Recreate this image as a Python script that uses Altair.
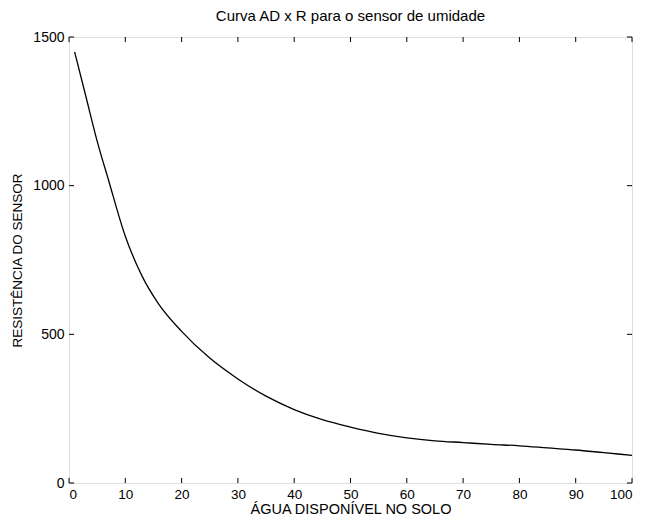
import altair as alt
import pandas as pd

# data
agua = [1, 3, 5, 7, 10, 13, 16, 20, 25, 30, 35, 40, 45, 50, 55, 60, 65, 70, 75, 80, 85, 90, 95, 100]
resistencia = [1450, 1300, 1150, 1020, 830, 695, 600, 510, 420, 350, 292, 247, 213, 188, 167, 152, 142, 136, 130, 125, 118, 111, 102, 93]

x_ticks = [0, 10, 20, 30, 40, 50, 60, 70, 80, 90, 100]
y_ticks = [0, 500, 1000, 1500]

FONT = "Liberation Sans"

df = pd.DataFrame({"AD": agua, "R": resistencia})

xs = alt.Scale(domain=[0, 100], nice=False, zero=False)
ys = alt.Scale(domain=[0, 1500], nice=False, zero=False)

line = alt.Chart(df).mark_line(color="black", strokeWidth=1.3, interpolate="monotone").encode(
    x=alt.X("AD:Q", scale=xs, title="ÁGUA DISPONÍVEL NO SOLO",
            axis=alt.Axis(values=x_ticks, format="d", tickSize=0, labelPadding=4, titlePadding=2,
                          domain=False, grid=False, labelFontSize=13.5, titleFontSize=14.5,
                          labelFont=FONT, titleFont=FONT, labelColor="black",
                          titleColor="black", titleFontWeight="normal")),
    y=alt.Y("R:Q", scale=ys, title="RESISTÊNCIA DO SENSOR",
            axis=alt.Axis(values=y_ticks, format="d", tickSize=0, labelPadding=5, titlePadding=8,
                          domain=False, grid=False, labelFontSize=14, titleFontSize=13.5,
                          labelFont=FONT, titleFont=FONT, labelColor="black",
                          titleColor="black", titleFontWeight="normal")),
)

# inward ticks on all four sides
xt = pd.DataFrame({"x": x_ticks})
yt = pd.DataFrame({"y": y_ticks})
tick_len_y = 17   # data units (~5 px)
tick_len_x = 0.9  # data units (~5 px)

xb = alt.Chart(xt).transform_calculate(y0="0", y1=str(tick_len_y)).mark_rule(color="black", strokeWidth=1).encode(
    x=alt.X("x:Q", scale=xs), y=alt.Y("y0:Q", scale=ys), y2="y1:Q")
xtop = alt.Chart(xt).transform_calculate(y0="1500", y1=str(1500 - tick_len_y)).mark_rule(color="black", strokeWidth=1).encode(
    x=alt.X("x:Q", scale=xs), y=alt.Y("y0:Q", scale=ys), y2="y1:Q")
yl = alt.Chart(yt).transform_calculate(x0="0", x1=str(tick_len_x)).mark_rule(color="black", strokeWidth=1).encode(
    y=alt.Y("y:Q", scale=ys), x=alt.X("x0:Q", scale=xs), x2="x1:Q")
yr = alt.Chart(yt).transform_calculate(x0="100", x1=str(100 - tick_len_x)).mark_rule(color="black", strokeWidth=1).encode(
    y=alt.Y("y:Q", scale=ys), x=alt.X("x0:Q", scale=xs), x2="x1:Q")

chart = alt.layer(line, xb, xtop, yl, yr).properties(
    width=563, height=446,
    title=alt.TitleParams("Curva AD x R para o sensor de umidade", font=FONT, fontSize=15,
                          fontWeight="normal", color="black", offset=6),
    autosize=alt.AutoSizeParams(type="none"),
    padding={"left": 61, "top": 29, "right": 6, "bottom": 38},
).configure_view(stroke="black", strokeWidth=1.5).configure(background="white")

chart.save("out.html", embed_options={"renderer": "svg", "actions": False})
